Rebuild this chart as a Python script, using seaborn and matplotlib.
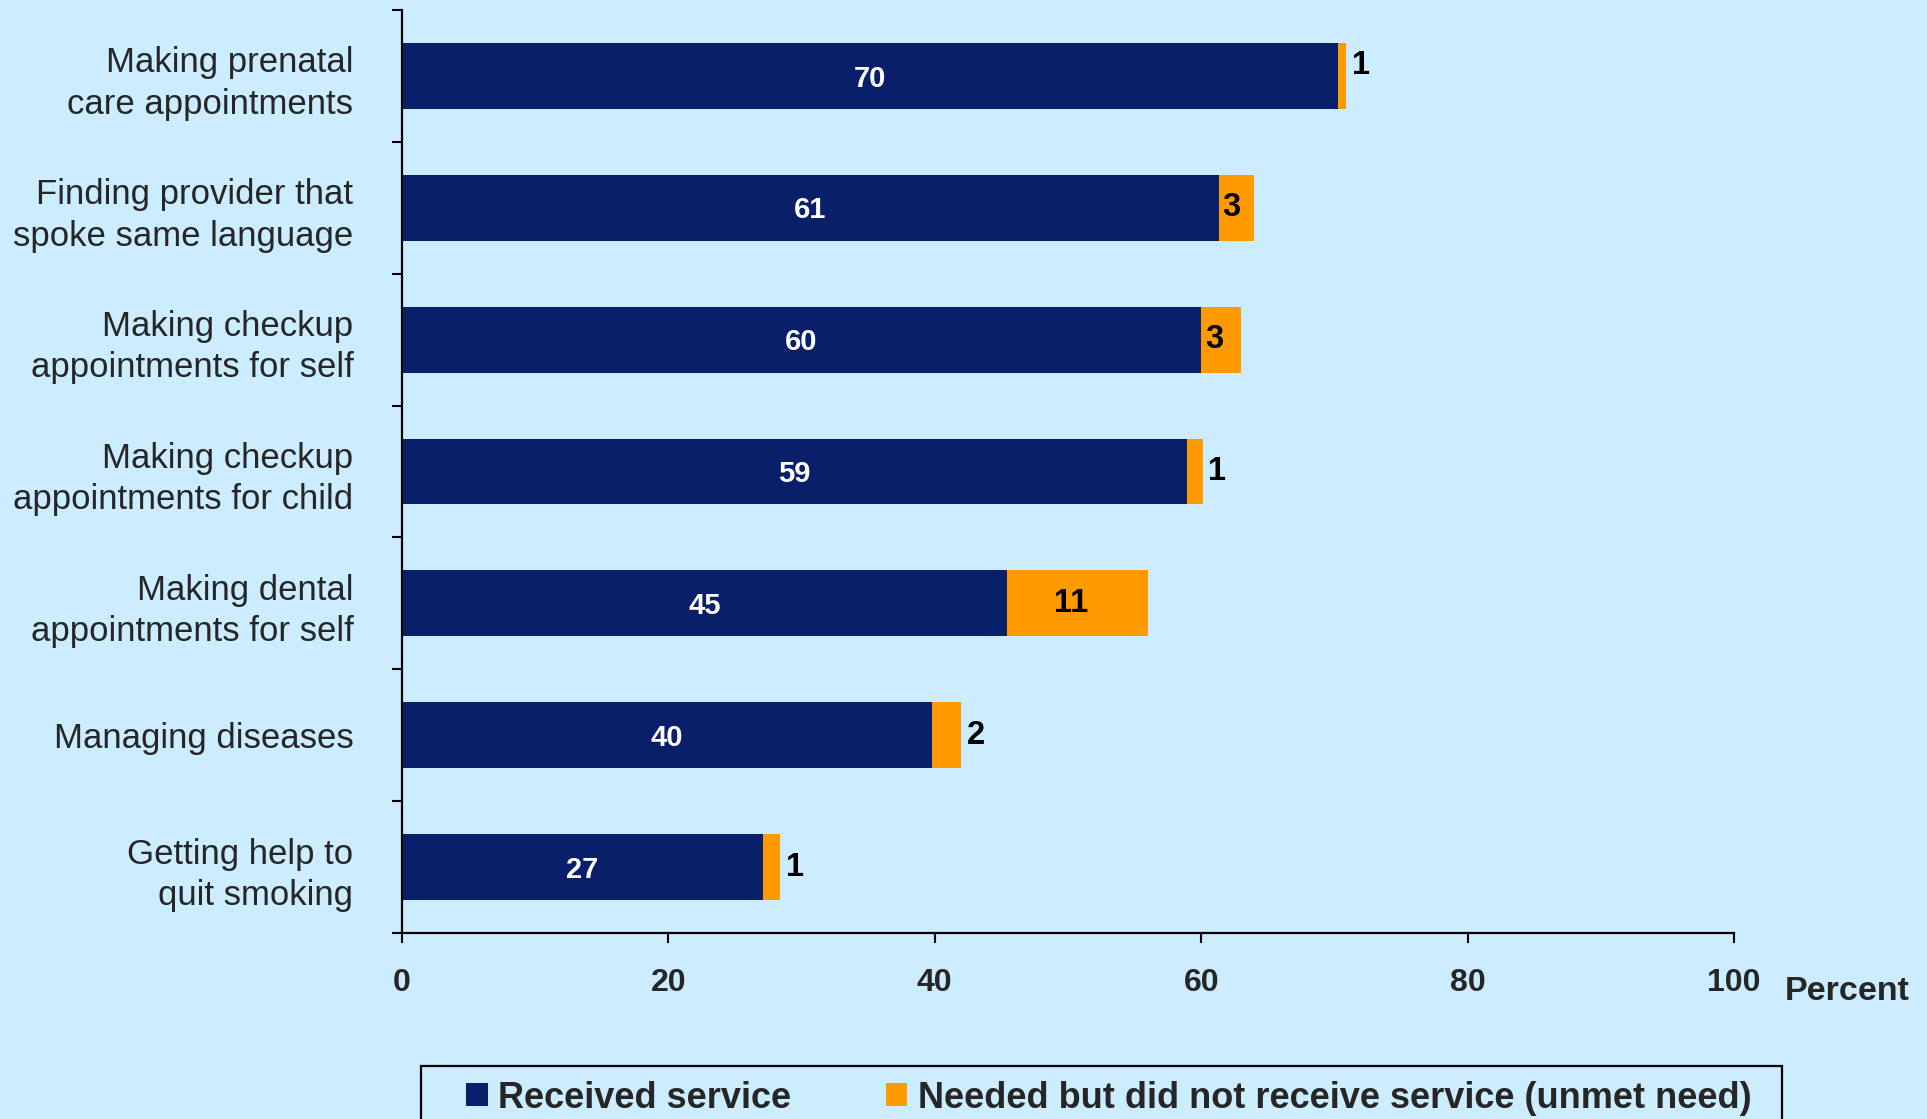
import matplotlib
matplotlib.use("Agg")
import matplotlib.pyplot as plt
import seaborn as sns
import pandas as pd
from matplotlib.patches import Patch, Rectangle
from matplotlib.ticker import FixedLocator

# ---- data ----
categories = [
    "Making prenatal\ncare appointments",
    "Finding provider that\nspoke same language",
    "Making checkup\nappointments for self",
    "Making checkup\nappointments for child",
    "Making dental\nappointments for self",
    "Managing diseases",
    "Getting help to\nquit smoking",
]
received = [70.3, 61.3, 60.0, 58.9, 45.4, 39.8, 27.1]
unmet = [0.6, 2.7, 3.0, 1.2, 10.6, 2.2, 1.3]
received_labels = ["70", "61", "60", "59", "45", "40", "27"]
unmet_labels = ["1", "3", "3", "1", "11", "2", "1"]
x_ticks = [0, 20, 40, 60, 80, 100]
series_names = ["Received service", "Needed but did not receive service (unmet need)"]
x_title = "Percent"

NAVY = "#0A1F69"
ORANGE = "#FF9900"
BG = "#CCECFF"

sns.set_theme(style="ticks")
plt.rcParams["font.family"] = ["Liberation Sans", "DejaVu Sans"]

df = pd.DataFrame({"category": categories, "received": received, "unmet": unmet})
df["total"] = df["received"] + df["unmet"]

W, H = 1927, 1119
fig = plt.figure(figsize=(W / 100, H / 100), dpi=100, facecolor=BG)
ax = fig.add_axes([402 / W, 1 - 933 / H, (1734 - 402) / W, (933 - 10) / H])
ax.set_facecolor(BG)

sns.barplot(data=df, y="category", x="total", color=ORANGE, width=0.5, orient="h",
            ax=ax, saturation=1, edgecolor="none", linewidth=0)
sns.barplot(data=df, y="category", x="received", color=NAVY, width=0.5, orient="h",
            ax=ax, saturation=1, edgecolor="none", linewidth=0)

ax.set_xlim(0, 100)
ax.set_ylim(len(categories) - 0.5, -0.5)
ax.set_xlabel("")
ax.set_ylabel("")

# y axis: labels at centers, ticks at boundaries
ax.set_yticks(range(len(categories)))
ax.set_yticklabels(categories, fontsize=25, linespacing=1.32)
ax.tick_params(axis="y", which="major", length=0, pad=35)
ax.yaxis.set_minor_locator(FixedLocator([i - 0.5 for i in range(len(categories) + 1)]))
ax.tick_params(axis="y", which="minor", length=7.5, width=1.5, color="black", direction="out")

# x axis
ax.set_xticks(x_ticks)
ax.set_xticklabels([str(t) for t in x_ticks], fontsize=23, fontweight="bold")
ax.tick_params(axis="x", length=7.5, width=1.5, color="black", direction="out", pad=18)

for s in ["top", "right"]:
    ax.spines[s].set_visible(False)
for s in ["left", "bottom"]:
    ax.spines[s].set_color("black")
    ax.spines[s].set_linewidth(1.6)

# value labels
for i, (r, u, rl, ul) in enumerate(zip(received, unmet, received_labels, unmet_labels)):
    ax.text(r / 2, i + 0.02, rl, color="white", fontsize=21, fontweight="bold",
            ha="center", va="center")
    if u >= 5:
        ax.text(r + u / 2 - 0.5, i, ul, color="black", fontsize=23.5, fontweight="bold",
                ha="center", va="center")
    elif u >= 2.5:
        ax.text(r + 0.3, i, ul, color="black", fontsize=23.5, fontweight="bold",
                ha="left", va="center")
    else:
        ax.text(r + u + 0.4, i - (0.08 if i == 0 else 0), ul, color="black",
                fontsize=23.5, fontweight="bold", ha="left", va="center")

fig.text(1785 / W, 1 - 992 / H, x_title, fontsize=24.5, fontweight="bold",
         ha="left", va="center")

# legend
handles = [Patch(facecolor=NAVY, edgecolor="none"), Patch(facecolor=ORANGE, edgecolor="none")]
fig.legend(handles, series_names, loc="center left",
           bbox_to_anchor=(466 / W, 1 - 1098 / H), ncol=2, frameon=False,
           prop={"size": 26, "weight": "bold"}, handlelength=0.6, handleheight=0.6,
           handletextpad=0.3, columnspacing=2.6, borderpad=0, borderaxespad=0)
fig.add_artist(Rectangle((421 / W, -10 / H), (1782 - 421) / W, (1129 - 1066) / H,
                         transform=fig.transFigure, facecolor="none",
                         edgecolor="black", linewidth=1.6))

fig.savefig("out.png", dpi=100, facecolor=BG)
